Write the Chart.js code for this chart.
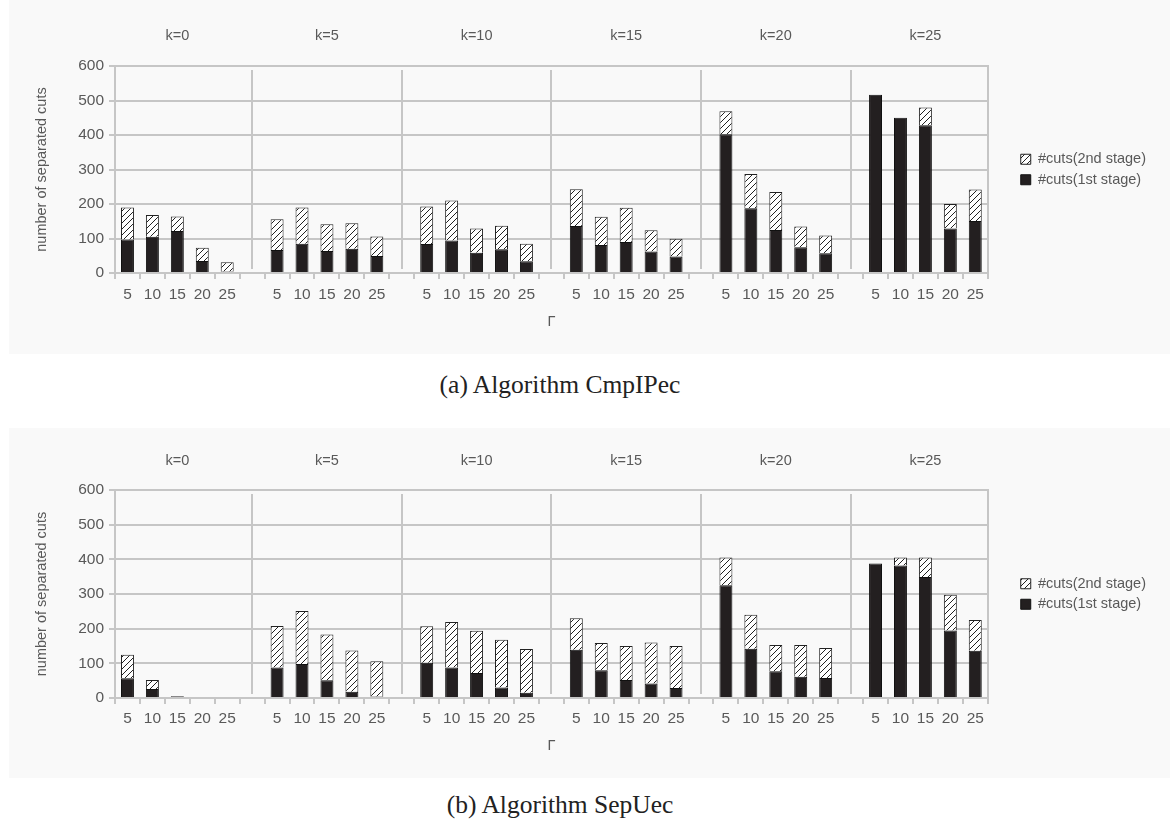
<!DOCTYPE html>
<html>
<head>
<meta charset="utf-8">
<script src="https://cdn.jsdelivr.net/npm/chart.js@4.4.1/dist/chart.umd.min.js"></script>
<style>
  body { margin: 0; background: #fff; width: 1170px; height: 825px; position: relative; overflow: hidden; }
  .panel { position: absolute; left: 9px; width: 1161px; background: #f9f9f9; }
  .panel canvas { display: block; }
  .caption { position: absolute; left: 0; width: 1120px; text-align: center;
             font-family: "Liberation Serif", "Times New Roman", serif; font-size: 25.5px; color: #222; line-height: 28px; }
</style>
</head>
<body>
<div class="panel" style="top:0;height:354px"><canvas id="chartA" width="1161" height="354"></canvas></div>
<div class="caption" style="top:371px">(a) Algorithm CmpIPec</div>
<div class="panel" style="top:428px;height:350px"><canvas id="chartB" width="1161" height="350"></canvas></div>
<div class="caption" style="top:791px">(b) Algorithm SepUec</div>

<script>
// группы k и значения Γ внутри группы
const kLabels = ['k=0', 'k=5', 'k=10', 'k=15', 'k=20', 'k=25'];
const gammaLabels = ['5', '10', '15', '20', '25'];
const yMax = 600;
const yStep = 100;

// (a) CmpIPec: число отсечений, 1-й и 2-й этап (по группам k)
const cmpFirst = [
    [97, 105, 122, 35, 4],
    [67, 85, 64, 70, 49],
    [84, 94, 59, 69, 34],
    [136, 81, 90, 62, 48],
    [402, 188, 125, 75, 57],
    [517, 450, 428, 129, 151]
];
const cmpSecond = [
    [93, 63, 42, 38, 27],
    [89, 105, 77, 74, 57],
    [109, 116, 70, 68, 51],
    [107, 82, 99, 62, 51],
    [67, 99, 110, 60, 52],
    [0, 0, 52, 71, 91]
];

// (b) SepUec
const sepFirst = [
    [57, 26, 5, 0, 0],
    [88, 98, 51, 18, 4],
    [102, 88, 72, 30, 15],
    [139, 80, 52, 42, 29],
    [325, 142, 77, 61, 58],
    [388, 382, 349, 195, 136]
];
const sepSecond = [
    [68, 26, 0, 0, 0],
    [120, 153, 132, 119, 102],
    [105, 131, 122, 138, 126],
    [91, 79, 98, 118, 121],
    [80, 98, 76, 92, 86],
    [0, 23, 56, 103, 89]
];

const textColor = '#595959';
const gridColor = '#c6c6c6';
const fontFamily = '"Liberation Sans", Arial, sans-serif';

// между группами оставляем пустой слот
function withGaps(groups, gapValue) {
    const out = [];
    groups.forEach((g, i) => {
        g.forEach(v => out.push(v));
        if (i < groups.length - 1) out.push(gapValue);
    });
    return out;
}

const xLabels = withGaps(kLabels.map(() => gammaLabels), '');
const topLabels = withGaps(kLabels.map(k => ['', '', k, '', '']), '');
const gapIndexes = xLabels.map((l, i) => l === '' ? i : -1).filter(i => i >= 0);

function toData(groups) {
    return withGaps(groups, null).map(v => v ? v : null);
}

function makeHatch(ctx) {
    const c = document.createElement('canvas');
    c.width = 6;
    c.height = 6;
    const g = c.getContext('2d');
    g.fillStyle = '#fff';
    g.fillRect(0, 0, 6, 6);
    g.strokeStyle = '#222';
    g.lineWidth = 1;
    g.beginPath();
    g.moveTo(0, 6); g.lineTo(6, 0);
    g.moveTo(-1, 1); g.lineTo(1, -1);
    g.moveTo(5, 7); g.lineTo(7, 5);
    g.stroke();
    return ctx.createPattern(c, 'repeat');
}

// вертикальные разделители групп
const groupDividers = {
    id: 'groupDividers',
    beforeDatasetsDraw(chart) {
        const { ctx, chartArea, scales } = chart;
        ctx.save();
        ctx.strokeStyle = gridColor;
        ctx.lineWidth = 2;
        gapIndexes.forEach(i => {
            const px = Math.round(scales.x.getPixelForValue(i));
            ctx.beginPath();
            ctx.moveTo(px, chartArea.top + 4);
            ctx.lineTo(px, chartArea.bottom - 4);
            ctx.stroke();
        });
        ctx.restore();
    }
};

function makeChart(id, first, second, lay) {
    const ctx = document.getElementById(id).getContext('2d');
    const hatch = makeHatch(ctx);
    return new Chart(ctx, {
        type: 'bar',
        data: {
            labels: xLabels,
            datasets: [{
                label: '#cuts(1st stage)',
                data: toData(first),
                backgroundColor: '#231f20',
                borderColor: '#111',
                borderWidth: 1
            }, {
                label: '#cuts(2nd stage)',
                data: toData(second),
                backgroundColor: hatch,
                borderColor: '#222',
                borderWidth: 1
            }]
        },
        options: {
            responsive: false,
            animation: false,
            layout: { padding: { left: 0, right: 14, top: 0, bottom: 0 } },
            datasets: { bar: { barPercentage: 0.52, categoryPercentage: 1 } },
            plugins: {
                tooltip: { enabled: false },
                legend: {
                    position: 'right',
                    reverse: true,
                    fullSize: false,
                    labels: {
                        boxWidth: 10,
                        boxHeight: 10,
                        padding: 6,
                        color: textColor,
                        font: { family: fontFamily, size: 14.5 }
                    }
                }
            },
            scales: {
                x: {
                    stacked: true,
                    grid: { drawOnChartArea: false, offset: true, color: gridColor, lineWidth: 2, tickLength: 6 },
                    border: { color: gridColor, width: 2 },
                    ticks: { autoSkip: false, maxRotation: 0, padding: lay.xPad, color: textColor,
                             font: { family: fontFamily, size: 15.5 } },
                    title: { display: true, text: 'Γ', color: textColor, padding: { top: 0, bottom: lay.gPad },
                             font: { family: fontFamily, size: 14.5 } },
                    afterFit: s => { s.height = lay.bottom; }
                },
                x2: {
                    type: 'category',
                    labels: topLabels,
                    position: 'top',
                    grid: { display: false, drawTicks: false },
                    border: { display: false },
                    ticks: { autoSkip: false, maxRotation: 0, padding: lay.kPad, color: textColor,
                             font: { family: fontFamily, size: 14.5 } },
                    afterFit: s => { s.height = lay.top; }
                },
                y: {
                    stacked: true,
                    min: 0,
                    max: yMax,
                    ticks: { stepSize: yStep, padding: 5, color: textColor, font: { family: fontFamily, size: 15.5 } },
                    grid: { color: gridColor, lineWidth: 2, tickLength: 6 },
                    border: { color: gridColor, width: 2 },
                    title: { display: true, text: 'number of separated cuts', color: textColor,
                             padding: { top: 24, bottom: 0 }, font: { family: fontFamily, size: 14.5 } },
                    afterFit: s => { s.width = 106; }
                },
                yR: {
                    position: 'right',
                    min: 0,
                    max: yMax,
                    grid: { display: false },
                    ticks: { display: false },
                    border: { display: true, color: gridColor, width: 2 },
                    afterFit: s => { s.width = 27; }
                }
            }
        },
        plugins: [groupDividers]
    });
}

makeChart('chartA', cmpFirst, cmpSecond, { top: 66, bottom: 81, kPad: 21, xPad: 6, gPad: 23 });
makeChart('chartB', sepFirst, sepSecond, { top: 62, bottom: 80, kPad: 20, xPad: 5, gPad: 23 });
</script>
</body>
</html>
